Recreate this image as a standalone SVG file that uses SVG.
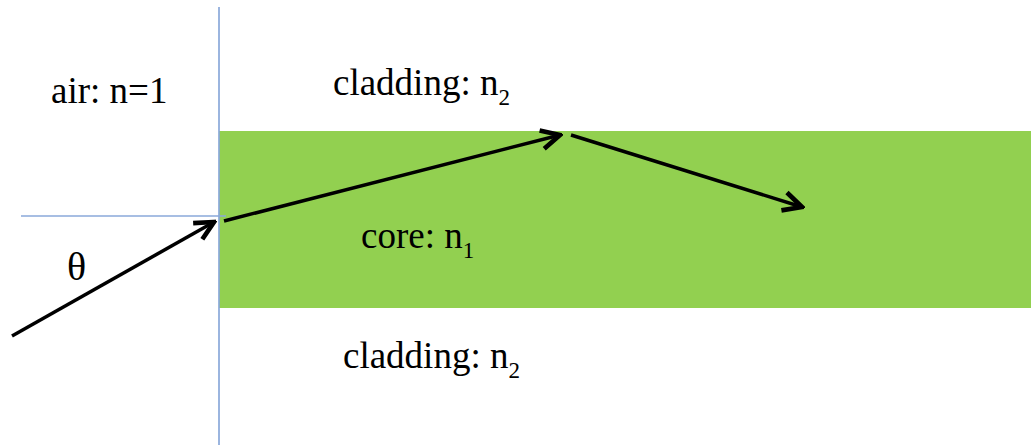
<svg xmlns="http://www.w3.org/2000/svg" width="1031" height="445" viewBox="0 0 1031 445">
<style>
.t{font-family:"Liberation Serif","Times New Roman",serif;font-size:37px;fill:#000}
.s{font-size:23px}
.ray{stroke:#000;stroke-width:3.5;fill:none;stroke-linecap:butt}
.guide{stroke:#8AA8DA;stroke-width:1.7;fill:none}
</style>
<defs>
<marker id="ah" markerUnits="userSpaceOnUse" markerWidth="24" markerHeight="24" refX="16" refY="8" orient="auto" viewBox="0 0 18 16">
<path d="M2,1 L16,8 L2,15" fill="none" stroke="#000" stroke-width="3.5"/>
</marker>
</defs>
<rect id="core" x="219" y="131" width="812" height="177" fill="#92D050"/>
<g id="guides">
<line class="guide" x1="219" y1="7" x2="219" y2="445"/>
<line class="guide" x1="21" y1="216" x2="226" y2="216"/>
</g>
<g id="labels">
<text id="air" class="t" x="51" y="103">air: n=1</text>
<text id="clad-top" class="t" x="333" y="95">cladding: n<tspan class="s" dy="10">2</tspan></text>
<text id="core-label" class="t" x="361" y="248">core: n<tspan class="s" dy="10">1</tspan></text>
<text id="clad-bot" class="t" x="343" y="368">cladding: n<tspan class="s" dy="10">2</tspan></text>
<text id="theta" class="t" x="67" y="280" style="font-size:40px">θ</text>
</g>
<g id="connectors">
<line class="ray" x1="12" y1="336" x2="214" y2="222" marker-end="url(#ah)"/>
<line class="ray" x1="224" y1="221" x2="560" y2="135" marker-end="url(#ah)"/>
<line class="ray" x1="571" y1="135" x2="802" y2="207" marker-end="url(#ah)"/>
</g>
</svg>
